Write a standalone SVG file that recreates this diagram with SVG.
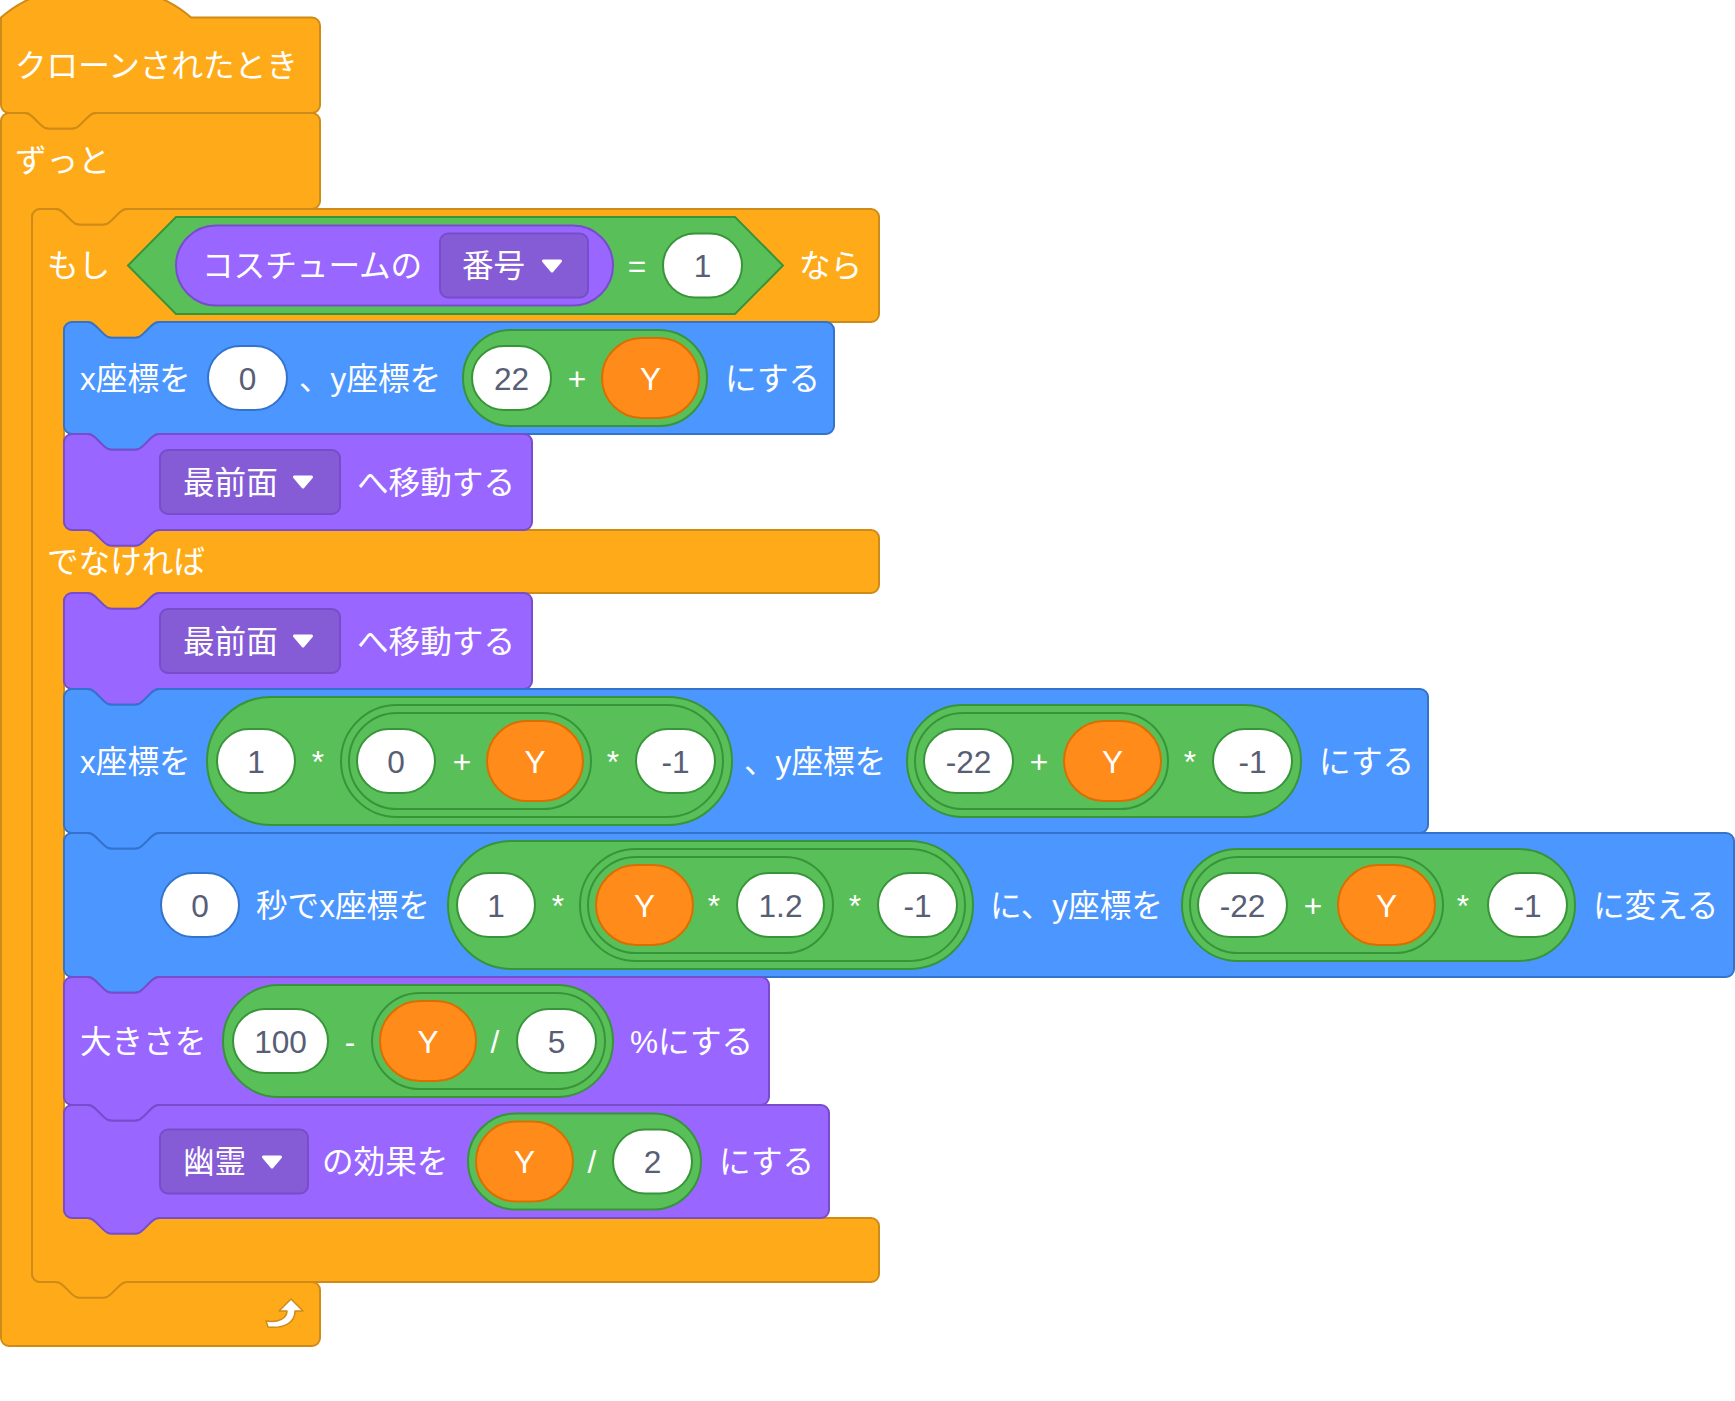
<svg xmlns="http://www.w3.org/2000/svg" xmlns:xlink="http://www.w3.org/1999/xlink" width="1735" height="1401" viewBox="0 0 1735 1401">
<style>
.ctl{fill:#FFAB19;stroke:#CF8B17;stroke-width:2}
.mot{fill:#4C97FF;stroke:#3373CC;stroke-width:2}
.lks{fill:#9966FF;stroke:#774DCB;stroke-width:2}
.dd{fill:#855CD6;stroke:#774DCB;stroke-width:2}
.op{fill:#59C059;stroke:#389438;stroke-width:2}
.var{fill:#FF8C1A;stroke:#DB6E00;stroke-width:2}
.wb{fill:#FFFFFF;stroke:#3373CC;stroke-width:2}
.wg{fill:#FFFFFF;stroke:#389438;stroke-width:2}
text{font-family:"Liberation Sans","Noto Sans CJK JP",sans-serif;font-size:31.6px;fill:#FFFFFF}
text.n{fill:#575E75;text-anchor:middle}
text.c{text-anchor:middle}
.arr{fill:#FFFFFF;stroke:#FFFFFF;stroke-width:3;stroke-linejoin:round}
</style>
<defs>
<path id="ddarrow" class="arr" d="M -8.5,-5 L 8.5,-5 L 0,5 Z"/>
</defs>
<rect x="0" y="0" width="1735" height="1401" fill="#FFFFFF"/>

<g id="hat-when-cloned">
<path class="ctl" d="M 1,17.5 c 49.5,-43.56 140.58,-43.56 190.08,0 H 312 a 8,8 0 0 1 8,8 V 105 a 8,8 0 0 1 -8,8 H 96.04 c -3.96,0 -5.94,1.98 -7.92,3.96 l -7.92,7.92 c -1.98,1.98 -3.96,3.96 -7.92,3.96 h -23.76 c -3.96,0 -5.94,-1.98 -7.92,-3.96 l -7.92,-7.92 c -1.98,-1.98 -3.96,-3.96 -7.92,-3.96 H 9 a 8,8 0 0 1 -8,-8 Z"/>
<text x="15" y="77">クローンされたとき</text>
</g>

<g id="forever">
<path class="ctl" d="M 1,121 a 8,8 0 0 1 8,-8 H 24.76 c 3.96,0 5.94,1.98 7.92,3.96 l 7.92,7.92 c 1.98,1.98 3.96,3.96 7.92,3.96 h 23.76 c 3.96,0 5.94,-1.98 7.92,-3.96 l 7.92,-7.92 c 1.98,-1.98 3.96,-3.96 7.92,-3.96 H 312 a 8,8 0 0 1 8,8 V 201 a 8,8 0 0 1 -8,8 H 127.04 c -3.96,0 -5.94,1.98 -7.92,3.96 l -7.92,7.92 c -1.98,1.98 -3.96,3.96 -7.92,3.96 h -23.76 c -3.96,0 -5.94,-1.98 -7.92,-3.96 l -7.92,-7.92 c -1.98,-1.98 -3.96,-3.96 -7.92,-3.96 H 40 a 8,8 0 0 0 -8,8 V 1274 a 8,8 0 0 0 8,8 H 312 a 8,8 0 0 1 8,8 V 1338 a 8,8 0 0 1 -8,8 H 9 a 8,8 0 0 1 -8,-8 Z"/>
<text x="15" y="172">ずっと</text>
<path fill="#FFFFFF" stroke="#CF8B17" stroke-width="1.5" stroke-linejoin="round" d="M 279,1311 L 291,1299 L 303,1311 L 295,1311 C 295,1322 285,1329 268,1327 L 266,1321 C 279,1323 287,1318 287,1311 Z"/>
</g>

<g id="if-else">
<path class="ctl" d="M 32,217 a 8,8 0 0 1 8,-8 H 55.76 c 3.96,0 5.94,1.98 7.92,3.96 l 7.92,7.92 c 1.98,1.98 3.96,3.96 7.92,3.96 h 23.76 c 3.96,0 5.94,-1.98 7.92,-3.96 l 7.92,-7.92 c 1.98,-1.98 3.96,-3.96 7.92,-3.96 H 871 a 8,8 0 0 1 8,8 V 314 a 8,8 0 0 1 -8,8 H 159.04 c -3.96,0 -5.94,1.98 -7.92,3.96 l -7.92,7.92 c -1.98,1.98 -3.96,3.96 -7.92,3.96 h -23.76 c -3.96,0 -5.94,-1.98 -7.92,-3.96 l -7.92,-7.92 c -1.98,-1.98 -3.96,-3.96 -7.92,-3.96 H 72 a 8,8 0 0 0 -8,8 V 522 a 8,8 0 0 0 8,8 H 871 a 8,8 0 0 1 8,8 V 585 a 8,8 0 0 1 -8,8 H 159.04 c -3.96,0 -5.94,1.98 -7.92,3.96 l -7.92,7.92 c -1.98,1.98 -3.96,3.96 -7.92,3.96 h -23.76 c -3.96,0 -5.94,-1.98 -7.92,-3.96 l -7.92,-7.92 c -1.98,-1.98 -3.96,-3.96 -7.92,-3.96 H 72 a 8,8 0 0 0 -8,8 V 1210 a 8,8 0 0 0 8,8 H 871 a 8,8 0 0 1 8,8 V 1274 a 8,8 0 0 1 -8,8 H 127.04 c -3.96,0 -5.94,1.98 -7.92,3.96 l -7.92,7.92 c -1.98,1.98 -3.96,3.96 -7.92,3.96 h -23.76 c -3.96,0 -5.94,-1.98 -7.92,-3.96 l -7.92,-7.92 c -1.98,-1.98 -3.96,-3.96 -7.92,-3.96 H 40 a 8,8 0 0 1 -8,-8 Z"/>
<text x="47" y="277">もし</text>
<polygon class="op" points="128,265.5 176,217 735,217 783,265.5 735,314 176,314"/>
<rect class="lks" x="176" y="225.5" width="437" height="80" rx="40"/>
<text x="202" y="277">コスチュームの</text>
<rect class="dd" x="440" y="233.5" width="148" height="64" rx="8"/>
<text x="462" y="277">番号</text>
<use xlink:href="#ddarrow" x="552" y="266"/>
<text class="c" x="637" y="277">=</text>
<rect class="wg" x="663" y="233.5" width="79" height="64" rx="32"/>
<text class="n" x="702.5" y="277">1</text>
<text x="799" y="277">なら</text>
<text x="47" y="573">でなければ</text>
</g>

<g id="goto-xy-1">
<path class="mot" d="M 64,330 a 8,8 0 0 1 8,-8 H 87.76 c 3.96,0 5.94,1.98 7.92,3.96 l 7.92,7.92 c 1.98,1.98 3.96,3.96 7.92,3.96 h 23.76 c 3.96,0 5.94,-1.98 7.92,-3.96 l 7.92,-7.92 c 1.98,-1.98 3.96,-3.96 7.92,-3.96 H 826 a 8,8 0 0 1 8,8 V 426 a 8,8 0 0 1 -8,8 H 159.04 c -3.96,0 -5.94,1.98 -7.92,3.96 l -7.92,7.92 c -1.98,1.98 -3.96,3.96 -7.92,3.96 h -23.76 c -3.96,0 -5.94,-1.98 -7.92,-3.96 l -7.92,-7.92 c -1.98,-1.98 -3.96,-3.96 -7.92,-3.96 H 72 a 8,8 0 0 1 -8,-8 Z"/>
<text x="80" y="389.5">x座標を</text>
<rect class="wb" x="208" y="346" width="79" height="64" rx="32"/>
<text class="n" x="247.5" y="389.5">0</text>
<text x="299" y="389.5">、y座標を</text>
<rect class="op" x="463" y="330" width="244" height="96" rx="48"/>
<rect class="wg" x="472" y="346" width="79" height="64" rx="32"/>
<text class="n" x="511.5" y="389.5">22</text>
<text class="c" x="577" y="389.5">+</text>
<rect class="var" x="602" y="338" width="97" height="80" rx="40"/>
<text class="c" x="650.5" y="389.5">Y</text>
<text x="725" y="389.5">にする</text>
</g>

<g id="go-front-1">
<path class="lks" d="M 64,442 a 8,8 0 0 1 8,-8 H 87.76 c 3.96,0 5.94,1.98 7.92,3.96 l 7.92,7.92 c 1.98,1.98 3.96,3.96 7.92,3.96 h 23.76 c 3.96,0 5.94,-1.98 7.92,-3.96 l 7.92,-7.92 c 1.98,-1.98 3.96,-3.96 7.92,-3.96 H 524 a 8,8 0 0 1 8,8 V 522 a 8,8 0 0 1 -8,8 H 159.04 c -3.96,0 -5.94,1.98 -7.92,3.96 l -7.92,7.92 c -1.98,1.98 -3.96,3.96 -7.92,3.96 h -23.76 c -3.96,0 -5.94,-1.98 -7.92,-3.96 l -7.92,-7.92 c -1.98,-1.98 -3.96,-3.96 -7.92,-3.96 H 72 a 8,8 0 0 1 -8,-8 Z"/>
<rect class="dd" x="160" y="450" width="180" height="64" rx="8"/>
<text x="183" y="493.5">最前面</text>
<use xlink:href="#ddarrow" x="303" y="482"/>
<text x="357" y="493.5">へ移動する</text>
</g>

<g id="go-front-2">
<path class="lks" d="M 64,601 a 8,8 0 0 1 8,-8 H 87.76 c 3.96,0 5.94,1.98 7.92,3.96 l 7.92,7.92 c 1.98,1.98 3.96,3.96 7.92,3.96 h 23.76 c 3.96,0 5.94,-1.98 7.92,-3.96 l 7.92,-7.92 c 1.98,-1.98 3.96,-3.96 7.92,-3.96 H 524 a 8,8 0 0 1 8,8 V 681 a 8,8 0 0 1 -8,8 H 159.04 c -3.96,0 -5.94,1.98 -7.92,3.96 l -7.92,7.92 c -1.98,1.98 -3.96,3.96 -7.92,3.96 h -23.76 c -3.96,0 -5.94,-1.98 -7.92,-3.96 l -7.92,-7.92 c -1.98,-1.98 -3.96,-3.96 -7.92,-3.96 H 72 a 8,8 0 0 1 -8,-8 Z"/>
<rect class="dd" x="160" y="609" width="180" height="64" rx="8"/>
<text x="183" y="652.5">最前面</text>
<use xlink:href="#ddarrow" x="303" y="641"/>
<text x="357" y="652.5">へ移動する</text>
</g>

<g id="goto-xy-2">
<path class="mot" d="M 64,697 a 8,8 0 0 1 8,-8 H 87.76 c 3.96,0 5.94,1.98 7.92,3.96 l 7.92,7.92 c 1.98,1.98 3.96,3.96 7.92,3.96 h 23.76 c 3.96,0 5.94,-1.98 7.92,-3.96 l 7.92,-7.92 c 1.98,-1.98 3.96,-3.96 7.92,-3.96 H 1420 a 8,8 0 0 1 8,8 V 825 a 8,8 0 0 1 -8,8 H 159.04 c -3.96,0 -5.94,1.98 -7.92,3.96 l -7.92,7.92 c -1.98,1.98 -3.96,3.96 -7.92,3.96 h -23.76 c -3.96,0 -5.94,-1.98 -7.92,-3.96 l -7.92,-7.92 c -1.98,-1.98 -3.96,-3.96 -7.92,-3.96 H 72 a 8,8 0 0 1 -8,-8 Z"/>
<text x="80" y="772.5">x座標を</text>
<rect class="op" x="207" y="697" width="525" height="128" rx="64"/>
<rect class="wg" x="217" y="729" width="78" height="64" rx="32"/>
<text class="n" x="256" y="772.5">1</text>
<text class="c" x="318" y="772.5">*</text>
<rect class="op" x="341" y="705" width="382" height="112" rx="56"/>
<rect class="op" x="349" y="713" width="242" height="96" rx="48"/>
<rect class="wg" x="357" y="729" width="78" height="64" rx="32"/>
<text class="n" x="396" y="772.5">0</text>
<text class="c" x="462" y="772.5">+</text>
<rect class="var" x="487" y="721" width="96" height="80" rx="40"/>
<text class="c" x="535" y="772.5">Y</text>
<text class="c" x="613" y="772.5">*</text>
<rect class="wg" x="636" y="729" width="79" height="64" rx="32"/>
<text class="n" x="675.5" y="772.5">-1</text>
<text x="744" y="772.5">、y座標を</text>
<rect class="op" x="907" y="705" width="394" height="112" rx="56"/>
<rect class="op" x="915" y="713" width="253" height="96" rx="48"/>
<rect class="wg" x="924" y="729" width="89" height="64" rx="32"/>
<text class="n" x="968.5" y="772.5">-22</text>
<text class="c" x="1039" y="772.5">+</text>
<rect class="var" x="1064" y="721" width="97" height="80" rx="40"/>
<text class="c" x="1112.5" y="772.5">Y</text>
<text class="c" x="1190" y="772.5">*</text>
<rect class="wg" x="1213" y="729" width="79" height="64" rx="32"/>
<text class="n" x="1252.5" y="772.5">-1</text>
<text x="1319" y="772.5">にする</text>
</g>

<g id="glide-xy">
<path class="mot" d="M 64,841 a 8,8 0 0 1 8,-8 H 87.76 c 3.96,0 5.94,1.98 7.92,3.96 l 7.92,7.92 c 1.98,1.98 3.96,3.96 7.92,3.96 h 23.76 c 3.96,0 5.94,-1.98 7.92,-3.96 l 7.92,-7.92 c 1.98,-1.98 3.96,-3.96 7.92,-3.96 H 1726 a 8,8 0 0 1 8,8 V 969 a 8,8 0 0 1 -8,8 H 159.04 c -3.96,0 -5.94,1.98 -7.92,3.96 l -7.92,7.92 c -1.98,1.98 -3.96,3.96 -7.92,3.96 h -23.76 c -3.96,0 -5.94,-1.98 -7.92,-3.96 l -7.92,-7.92 c -1.98,-1.98 -3.96,-3.96 -7.92,-3.96 H 72 a 8,8 0 0 1 -8,-8 Z"/>
<rect class="wb" x="161" y="873" width="78" height="64" rx="32"/>
<text class="n" x="200" y="916.5">0</text>
<text x="256" y="916.5">秒でx座標を</text>
<rect class="op" x="448" y="841" width="525" height="128" rx="64"/>
<rect class="wg" x="457" y="873" width="78" height="64" rx="32"/>
<text class="n" x="496" y="916.5">1</text>
<text class="c" x="558" y="916.5">*</text>
<rect class="op" x="580" y="849" width="385" height="112" rx="56"/>
<rect class="op" x="588" y="857" width="245" height="96" rx="48"/>
<rect class="var" x="596" y="865" width="97" height="80" rx="40"/>
<text class="c" x="644.5" y="916.5">Y</text>
<text class="c" x="714" y="916.5">*</text>
<rect class="wg" x="737" y="873" width="87" height="64" rx="32"/>
<text class="n" x="780.5" y="916.5">1.2</text>
<text class="c" x="855" y="916.5">*</text>
<rect class="wg" x="878" y="873" width="79" height="64" rx="32"/>
<text class="n" x="917.5" y="916.5">-1</text>
<text x="990" y="916.5">に、y座標を</text>
<rect class="op" x="1182" y="849" width="393" height="112" rx="56"/>
<rect class="op" x="1190" y="857" width="253" height="96" rx="48"/>
<rect class="wg" x="1198" y="873" width="89" height="64" rx="32"/>
<text class="n" x="1242.5" y="916.5">-22</text>
<text class="c" x="1313" y="916.5">+</text>
<rect class="var" x="1338" y="865" width="97" height="80" rx="40"/>
<text class="c" x="1386.5" y="916.5">Y</text>
<text class="c" x="1463" y="916.5">*</text>
<rect class="wg" x="1488" y="873" width="79" height="64" rx="32"/>
<text class="n" x="1527.5" y="916.5">-1</text>
<text x="1593" y="916.5">に変える</text>
</g>

<g id="set-size">
<path class="lks" d="M 64,985 a 8,8 0 0 1 8,-8 H 87.76 c 3.96,0 5.94,1.98 7.92,3.96 l 7.92,7.92 c 1.98,1.98 3.96,3.96 7.92,3.96 h 23.76 c 3.96,0 5.94,-1.98 7.92,-3.96 l 7.92,-7.92 c 1.98,-1.98 3.96,-3.96 7.92,-3.96 H 761 a 8,8 0 0 1 8,8 V 1097 a 8,8 0 0 1 -8,8 H 159.04 c -3.96,0 -5.94,1.98 -7.92,3.96 l -7.92,7.92 c -1.98,1.98 -3.96,3.96 -7.92,3.96 h -23.76 c -3.96,0 -5.94,-1.98 -7.92,-3.96 l -7.92,-7.92 c -1.98,-1.98 -3.96,-3.96 -7.92,-3.96 H 72 a 8,8 0 0 1 -8,-8 Z"/>
<text x="80" y="1052.5">大きさを</text>
<rect class="op" x="223" y="985" width="390" height="112" rx="56"/>
<rect class="wg" x="233" y="1009" width="95" height="64" rx="32"/>
<text class="n" x="280.5" y="1052.5">100</text>
<text class="c" x="350" y="1052.5">-</text>
<rect class="op" x="372" y="993" width="233" height="96" rx="48"/>
<rect class="var" x="380" y="1001" width="96" height="80" rx="40"/>
<text class="c" x="428" y="1052.5">Y</text>
<text class="c" x="495" y="1052.5">/</text>
<rect class="wg" x="517" y="1009" width="79" height="64" rx="32"/>
<text class="n" x="556.5" y="1052.5">5</text>
<text x="630" y="1052.5">%にする</text>
</g>

<g id="set-ghost-effect">
<path class="lks" d="M 64,1113 a 8,8 0 0 1 8,-8 H 87.76 c 3.96,0 5.94,1.98 7.92,3.96 l 7.92,7.92 c 1.98,1.98 3.96,3.96 7.92,3.96 h 23.76 c 3.96,0 5.94,-1.98 7.92,-3.96 l 7.92,-7.92 c 1.98,-1.98 3.96,-3.96 7.92,-3.96 H 821 a 8,8 0 0 1 8,8 V 1210 a 8,8 0 0 1 -8,8 H 159.04 c -3.96,0 -5.94,1.98 -7.92,3.96 l -7.92,7.92 c -1.98,1.98 -3.96,3.96 -7.92,3.96 h -23.76 c -3.96,0 -5.94,-1.98 -7.92,-3.96 l -7.92,-7.92 c -1.98,-1.98 -3.96,-3.96 -7.92,-3.96 H 72 a 8,8 0 0 1 -8,-8 Z"/>
<rect class="dd" x="160" y="1129.5" width="148" height="64" rx="8"/>
<text x="183" y="1173">幽霊</text>
<use xlink:href="#ddarrow" x="272" y="1162"/>
<text x="322" y="1173">の効果を</text>
<rect class="op" x="468" y="1113.5" width="233" height="96" rx="48"/>
<rect class="var" x="476" y="1121.5" width="97" height="80" rx="40"/>
<text class="c" x="524.5" y="1173">Y</text>
<text class="c" x="592" y="1173">/</text>
<rect class="wg" x="613" y="1129.5" width="79" height="64" rx="32"/>
<text class="n" x="652.5" y="1173">2</text>
<text x="719" y="1173">にする</text>
</g>

<g id="connectors"/>
</svg>
